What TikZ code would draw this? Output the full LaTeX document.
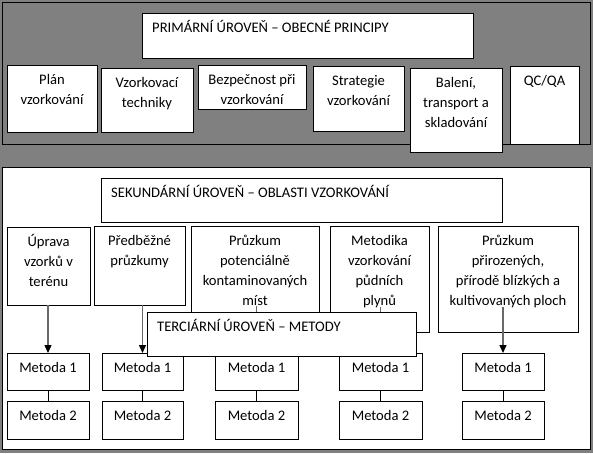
\documentclass[tikz,border=0pt]{standalone}
\usepackage{fontspec}
\setmainfont{Carlito}
\usetikzlibrary{fit,arrows.meta}
\definecolor{panelgray}{RGB}{128,128,128}
\definecolor{arrowgray}{RGB}{105,105,105}
\newcommand{\tstrut}{\rule{0pt}{14pt}}
\tikzset{
  boxst/.style={draw=black, fill=white, line width=0.9pt, inner sep=0pt, outer sep=0pt},
  panelst/.style={draw=black, line width=0.9pt, inner sep=0pt, outer sep=0pt},
  txtst/.style={anchor=north, inner sep=0pt, align=center, font=\fontsize{14.6}{20}\selectfont},
  titlest/.style={anchor=north west, inner sep=0pt, align=left, font=\fontsize{14.6}{20}\selectfont},
  conn/.style={draw=arrowgray, line width=1.3pt, -{Triangle[length=8pt,width=7pt,color=black]}},
  link/.style={draw=black, line width=0.9pt},
}
% box with centred text at the top
\newcommand{\bx}[6]{%
  \node[boxst, fit={(#2,#3) (#4,#5)}] (#1) {};
  \node[txtst] (#1t) at ([yshift=-5pt]#1.north) {\tstrut #6};
}
% box with left-aligned title text
\newcommand{\tbx}[6]{%
  \node[boxst, fit={(#2,#3) (#4,#5)}] (#1) {};
  \node[titlest] (#1t) at ([xshift=10pt,yshift=-5pt]#1.north west) {\tstrut #6};
}
\begin{document}
\begin{tikzpicture}[x=1pt,y=-1pt]
  \useasboundingbox (0,0) rectangle (593,453);
  \fill[panelgray] (0,0) rectangle (593,453);
  % panels
  \node[panelst, fill=panelgray, fit={(2,2) (590,144)}] (toppanel) {};
  \node[panelst, fill=white, fit={(2,167) (590,449)}] (botpanel) {};

  % primary level
  \tbx{prim}{142}{13}{473}{58}{PRIMÁRNÍ ÚROVEŇ – OBECNÉ PRINCIPY}
  \bx{plan}{7}{65}{97}{132}{Plán\\vzorkování}
  \bx{vzt}{101}{68}{193}{132}{Vzorkovací\\techniky}
  \bx{bezp}{198}{65}{306}{109}{Bezpečnost při\\vzorkování}
  \bx{strat}{313}{66}{404}{131}{Strategie\\vzorkování}
  \bx{bal}{410}{68}{502}{152}{Balení,\\transport a\\skladování}
  \bx{qc}{510}{66}{579}{144}{QC/QA}

  % secondary level
  \tbx{sek}{101}{178}{502}{222}{SEKUNDÁRNÍ ÚROVEŇ – OBLASTI VZORKOVÁNÍ}
  \bx{uprava}{7}{227}{90}{305}{Úprava\\vzorků v\\terénu}
  \bx{pred}{94}{226}{185}{305}{Předběžné\\průzkumy}
  \bx{pot}{191}{226}{319}{332}{Průzkum\\potenciálně\\kontaminovaných\\míst}
  \bx{metod}{330}{226}{429}{332}{Metodika\\vzorkování\\půdních\\plynů}
  \bx{prir}{438}{226}{578}{332}{Průzkum\\přirozených,\\přírodě blízkých a\\kultivovaných ploch}

  % methods
  \bx{ma1}{7}{353}{89}{390}{Metoda 1}
  \bx{ma2}{7}{401}{89}{439}{Metoda 2}
  \bx{mb1}{102}{353}{183}{390}{Metoda 1}
  \bx{mb2}{102}{401}{183}{439}{Metoda 2}
  \bx{mc1}{215}{353}{298}{390}{Metoda 1}
  \bx{mc2}{215}{401}{298}{439}{Metoda 2}
  \bx{md1}{339}{353}{422}{390}{Metoda 1}
  \bx{md2}{339}{401}{422}{439}{Metoda 2}
  \bx{me1}{462}{353}{544}{390}{Metoda 1}
  \bx{me2}{462}{401}{544}{439}{Metoda 2}

  % connectors
  \coordinate (sc) at ([yshift=47pt]mc1.north);
  \coordinate (sd) at ([yshift=46pt]md1.north);
  \coordinate (se) at ([yshift=46pt]me1.north);
  \draw[conn] (ma1.north |- uprava.south) -- (ma1.north);
  \draw[conn] (mb1.north |- pred.south) -- (mb1.north);
  \draw[conn] (sc) -- (mc1.north);
  \draw[conn] (sd) -- (md1.north);
  \draw[conn] (se) -- (me1.north);
  \foreach \c in {a,b,c,d,e}{
    \draw[link] (m\c1.south) -- (m\c2.north);
  }

  % tertiary level title (on top)
  \tbx{ter}{147}{312}{416}{356}{TERCIÁRNÍ ÚROVEŇ – METODY}
\end{tikzpicture}
\end{document}
